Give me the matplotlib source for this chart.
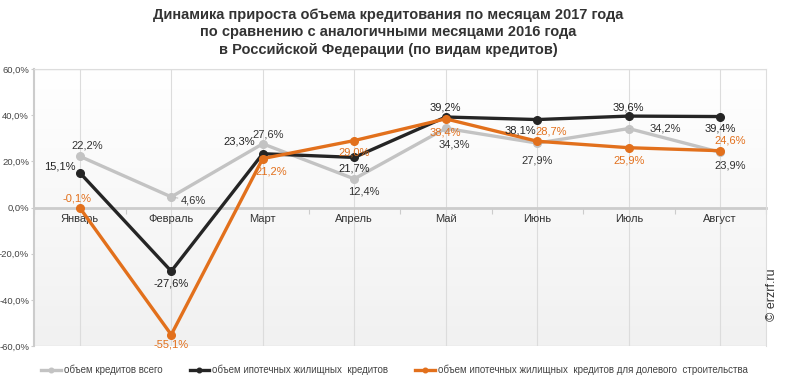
import numpy as np
import matplotlib
matplotlib.use("Agg")
import matplotlib.pyplot as plt

plt.rcParams['font.family'] = ['Liberation Sans', 'DejaVu Sans']
plt.rcParams['axes.unicode_minus'] = False

# Data
months = ["Январь", "Февраль", "Март", "Апрель", "Май", "Июнь", "Июль", "Август"]
total_credit = [22.2, 4.6, 27.6, 12.4, 34.3, 27.9, 34.2, 23.9]
mortgage = [15.1, -27.6, 23.3, 21.7, 39.2, 38.1, 39.6, 39.4]
mortgage_ddu = [-0.1, -55.1, 21.2, 29.0, 38.4, 28.7, 25.9, 24.6]
series_names = ["объем кредитов всего",
                "объем ипотечных жилищных  кредитов",
                "объем ипотечных жилищных  кредитов для долевого  строительства"]
y_ticks = [60, 40, 20, 0, -20, -40, -60]

title = ("Динамика прироста объема кредитования по месяцам 2017 года\n"
         "по сравнению с аналогичными месяцами 2016 года\n"
         "в Российской Федерации (по видам кредитов)")

# label offsets in pixels (dx, dy)
gray_offsets = [(7, 11), (22, -4), (5, 9), (10, -13), (9, -16), (0, -17), (37, 0), (10, -13)]
black_offsets = [(-20, 6), (0, -12), (-23, 12), (0, -11), (0, 10), (-17, -11), (0, 9), (0, -12)]
orange_offsets = [(-3, 9), (0, -10), (9, -13), (0, -12), (0, -14), (14, 10), (0, -13), (10, 10)]

colors = ["#c3c3c3", "#252525", "#e2701c"]
label_colors = ["#333333", "#222222", "#e2701c"]


def fmt(v):
    return f"{v:.1f}%".replace(".", ",")


fig = plt.figure(figsize=(7.89, 3.82), dpi=100)
ax = fig.add_axes([34 / 789, 1 - 346 / 382, 732 / 789, 277 / 382])

x = np.arange(len(months))
ax.set_xlim(-0.5, len(months) - 0.5)
ax.set_ylim(-60, 60)

# gradient background
grad = np.linspace(0, 1, 256).reshape(-1, 1)
ax.imshow(grad, extent=[-0.5, len(months) - 0.5, -60, 60], aspect="auto",
          cmap=matplotlib.colors.LinearSegmentedColormap.from_list("bg", ["#f1f1f1", "#ffffff"]),
          origin="lower", zorder=0)

for xi in x:
    ax.axvline(xi, color="#dcdcdc", lw=0.8, zorder=1)
ax.axhline(60, color="#dddddd", lw=1, zorder=1)
ax.axhline(-60, color="#dddddd", lw=1, zorder=1)

lines = []
for vals, c in zip([total_credit, mortgage, mortgage_ddu], colors):
    ln, = ax.plot(x, vals, "-o", color=c, lw=2.4, ms=5.5, zorder=3)
    lines.append(ln)

for vals, offs, c, leaders in [(total_credit, gray_offsets, label_colors[0], {1, 6}),
                               (mortgage, black_offsets, label_colors[1], set()),
                               (mortgage_ddu, orange_offsets, label_colors[2], set())]:
    for i, (v, (dx, dy)) in enumerate(zip(vals, offs)):
        kw = {}
        if i in leaders:
            kw["arrowprops"] = dict(arrowstyle="-", color="#bbbbbb", lw=0.7, shrinkA=12, shrinkB=3)
        ax.annotate(fmt(v), (x[i], v), xytext=(dx, dy), textcoords="offset pixels",
                    ha="center", va="center", fontsize=8, color=c, zorder=5, **kw)

for s in ["top", "right"]:
    ax.spines[s].set_color("#dddddd")
ax.spines["left"].set_color("#cccccc")
ax.spines["left"].set_linewidth(1.5)
ax.spines["bottom"].set_position(("data", 0))
ax.spines["bottom"].set_color("#cccccc")
ax.spines["bottom"].set_linewidth(2)
ax.spines["bottom"].set_zorder(2)

ax.set_xticks(np.arange(-0.5, len(months), 1))
ax.set_xticklabels([])
ax.set_xticks(x, minor=True)
ax.set_xticklabels(months, minor=True)
ax.tick_params(axis="x", which="major", length=4, color="#cccccc", direction="out")
ax.tick_params(axis="x", which="minor", length=0, pad=5, labelsize=8, labelcolor="#333333")

ax.set_yticks(y_ticks)
ax.set_yticklabels([f"{t},0%" for t in y_ticks])
ax.tick_params(axis="y", length=2.5, color="#cccccc", labelsize=6.8, labelcolor="#444444", pad=1)

fig.text(0.492, 0.98, title, ha="center", va="top", fontsize=10.5,
         fontweight="bold", color="#333333", linespacing=1.35)

fig.text(0.978, 0.16, "© erzrf.ru", rotation=90, ha="center", va="bottom",
         fontsize=9, color="#333333")

fig.legend(lines, series_names, loc="lower center", bbox_to_anchor=(0.5, -0.005),
           ncol=3, frameon=False, fontsize=7, handlelength=2.0, columnspacing=2.8,
           handletextpad=0.3, labelcolor="#444444", markerscale=0.6)

fig.savefig("out.png", dpi=100, facecolor="white")
